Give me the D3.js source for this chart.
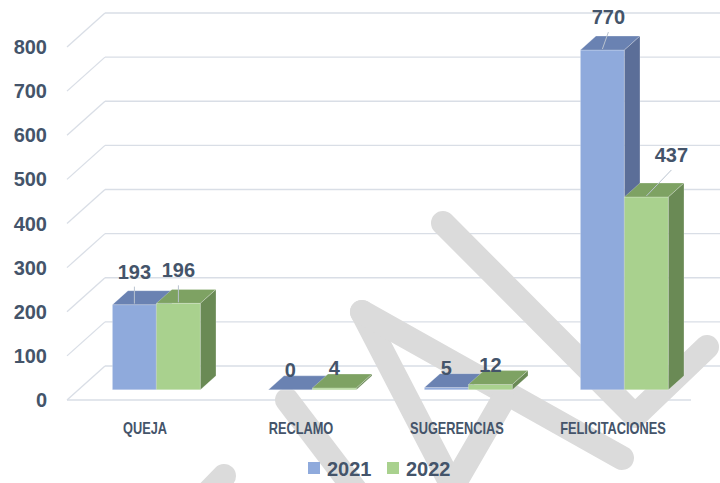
<!DOCTYPE html>
<html>
<head>
<meta charset="utf-8">
<script src="https://cdn.jsdelivr.net/npm/d3@7"></script>
<style>
  body { margin: 0; background: #ffffff; }
  svg { display: block; }
</style>
</head>
<body>
<svg id="chart" width="720" height="483"></svg>
<script>
// ---- data ----
const categories = ["QUEJA", "RECLAMO", "SUGERENCIAS", "FELICITACIONES"];
const years = ["2021", "2022"];
const values2021 = [193, 0, 5, 770];
const values2022 = [196, 4, 12, 437];
const yTicks = [0, 100, 200, 300, 400, 500, 600, 700, 800];

// ---- layout ----
const W = 720, H = 483;
const TEXT = "#44546A";
const GRID = "#D9DEE6";
const FONT = "'Liberation Sans', Arial, sans-serif";
const svg = d3.select("#chart");

// front plane scales; depth is an oblique offset
const x = d3.scaleBand().domain(categories).range([67, 691]);
const y = d3.scaleLinear().domain([0, 800]).range([400, 47]);
const xSeries = d3.scaleBand().domain(years).range([-44, 44]);
const DX = 38, DY = -34;          // full floor depth on screen
const Z0 = 0.3, Z1 = 0.71;        // bar slab depth
const proj = (px, v, z) => [px + DX * z, y(v) + DY * z];

const colors = {
  "2021": { front: "#8FAADC", top: "#6A82B2", side: "#5B6E98" },
  "2022": { front: "#A9D18E", top: "#7EA263", side: "#6A8A55" }
};

// ---- walls & gridlines ----
const grid = svg.append("g").attr("fill", "none").attr("stroke", GRID).attr("stroke-width", 1.3);
yTicks.forEach(t => {
  const a = proj(67, t, 0), b = proj(67, t, 1);
  grid.append("line").attr("x1", a[0]).attr("y1", a[1]).attr("x2", b[0]).attr("y2", b[1]);
  grid.append("line").attr("x1", b[0]).attr("y1", b[1]).attr("x2", W).attr("y2", b[1]);
});
grid.append("line")
  .attr("x1", x.range()[0]).attr("y1", y(0))
  .attr("x2", x.range()[1]).attr("y2", y(0));

// ---- watermark strokes (behind the bars) ----
const watermark = [
  [[224, 476], [196, 505]],
  [[287, 400], [357, 492]],
  [[362, 312], [462, 505]],
  [[362, 312], [622, 458]],
  [[452, 488], [503, 400]],
  [[443, 223], [635, 416], [707, 347]]
];
const wm = svg.append("g")
  .attr("fill", "none").attr("stroke", "#DBDBDB")
  .attr("stroke-width", 24).attr("stroke-linecap", "round").attr("stroke-linejoin", "round");
watermark.forEach(pts => wm.append("path").attr("d", d3.line()(pts)));

// ---- y tick labels ----
svg.append("g")
  .selectAll("text").data(yTicks).join("text")
  .attr("x", 47).attr("y", d => y(d))
  .attr("text-anchor", "end").attr("dominant-baseline", "central")
  .attr("font-family", FONT)
  .attr("font-weight", "bold").attr("font-size", 20).attr("fill", TEXT)
  .text(d => d);

// ---- bars ----
const series = years.map((yr, i) => ({ year: yr, values: i === 0 ? values2021 : values2022 }));
const bars = [];
categories.forEach((c, ci) => {
  series.forEach(s => bars.push({ cat: c, year: s.year, v: s.values[ci] }));
});

const poly = pts => "M" + pts.map(p => p.join(",")).join("L") + "Z";
const barG = svg.append("g").attr("stroke", "rgba(255,255,255,0.35)").attr("stroke-width", 0.7);
bars.forEach(b => {
  const px = x(b.cat) + x.bandwidth() / 2 + xSeries(b.year);
  const w = xSeries.bandwidth();
  const col = colors[b.year];
  barG.append("path").attr("fill", col.front)
    .attr("d", poly([proj(px, 0, Z0), proj(px + w, 0, Z0), proj(px + w, b.v, Z0), proj(px, b.v, Z0)]));
  barG.append("path").attr("fill", col.top)
    .attr("d", poly([proj(px, b.v, Z0), proj(px + w, b.v, Z0), proj(px + w, b.v, Z1), proj(px, b.v, Z1)]));
  barG.append("path").attr("fill", col.side)
    .attr("d", poly([proj(px + w, 0, Z0), proj(px + w, 0, Z1), proj(px + w, b.v, Z1), proj(px + w, b.v, Z0)]));
});

// ---- data labels with leader lines ----
const labelShift = { "FELICITACIONES|2021": [6, 0], "FELICITACIONES|2022": [25, -9] };
const lbl = svg.append("g");
bars.forEach(b => {
  const px = x(b.cat) + x.bandwidth() / 2 + xSeries(b.year);
  const cx = px + xSeries.bandwidth() / 2 + DX * Z0;
  const top = y(b.v) + DY * Z0;
  const tall = (y(0) - y(b.v)) > 20;
  const sh = labelShift[b.cat + "|" + b.year] || [0, 0];
  const lx = cx + sh[0];
  const ly = tall ? top - 33 + sh[1] : top - 20;
  if (tall) {
    lbl.append("line")
      .attr("x1", lx).attr("y1", ly + 15)
      .attr("x2", cx).attr("y2", top - 1)
      .attr("stroke", "#B9C3CF").attr("stroke-width", 1);
  }
  lbl.append("text")
    .attr("x", lx).attr("y", ly)
    .attr("text-anchor", "middle").attr("dominant-baseline", "central")
    .attr("font-family", FONT)
    .attr("font-weight", "bold").attr("font-size", 20).attr("fill", TEXT)
    .text(b.v);
});

// ---- category labels (condensed bold) ----
svg.append("g")
  .selectAll("text").data(categories).join("text")
  .attr("transform", d => `translate(${x(d) + x.bandwidth() / 2},428) scale(0.8,1)`)
  .attr("text-anchor", "middle").attr("dominant-baseline", "central")
  .attr("font-family", FONT)
  .attr("font-weight", "bold").attr("font-size", 16).attr("fill", TEXT)
  .text(d => d);

// ---- legend ----
const legend = svg.append("g");
const legendX = { "2021": 308, "2022": 387 };
years.forEach(yr => {
  legend.append("rect")
    .attr("x", legendX[yr]).attr("y", 462).attr("width", 12).attr("height", 12)
    .attr("fill", colors[yr].front);
  legend.append("text")
    .attr("x", legendX[yr] + 19).attr("y", 469)
    .attr("dominant-baseline", "central")
    .attr("font-family", FONT)
    .attr("font-weight", "bold").attr("font-size", 20).attr("fill", TEXT)
    .text(yr);
});
</script>
</body>
</html>
